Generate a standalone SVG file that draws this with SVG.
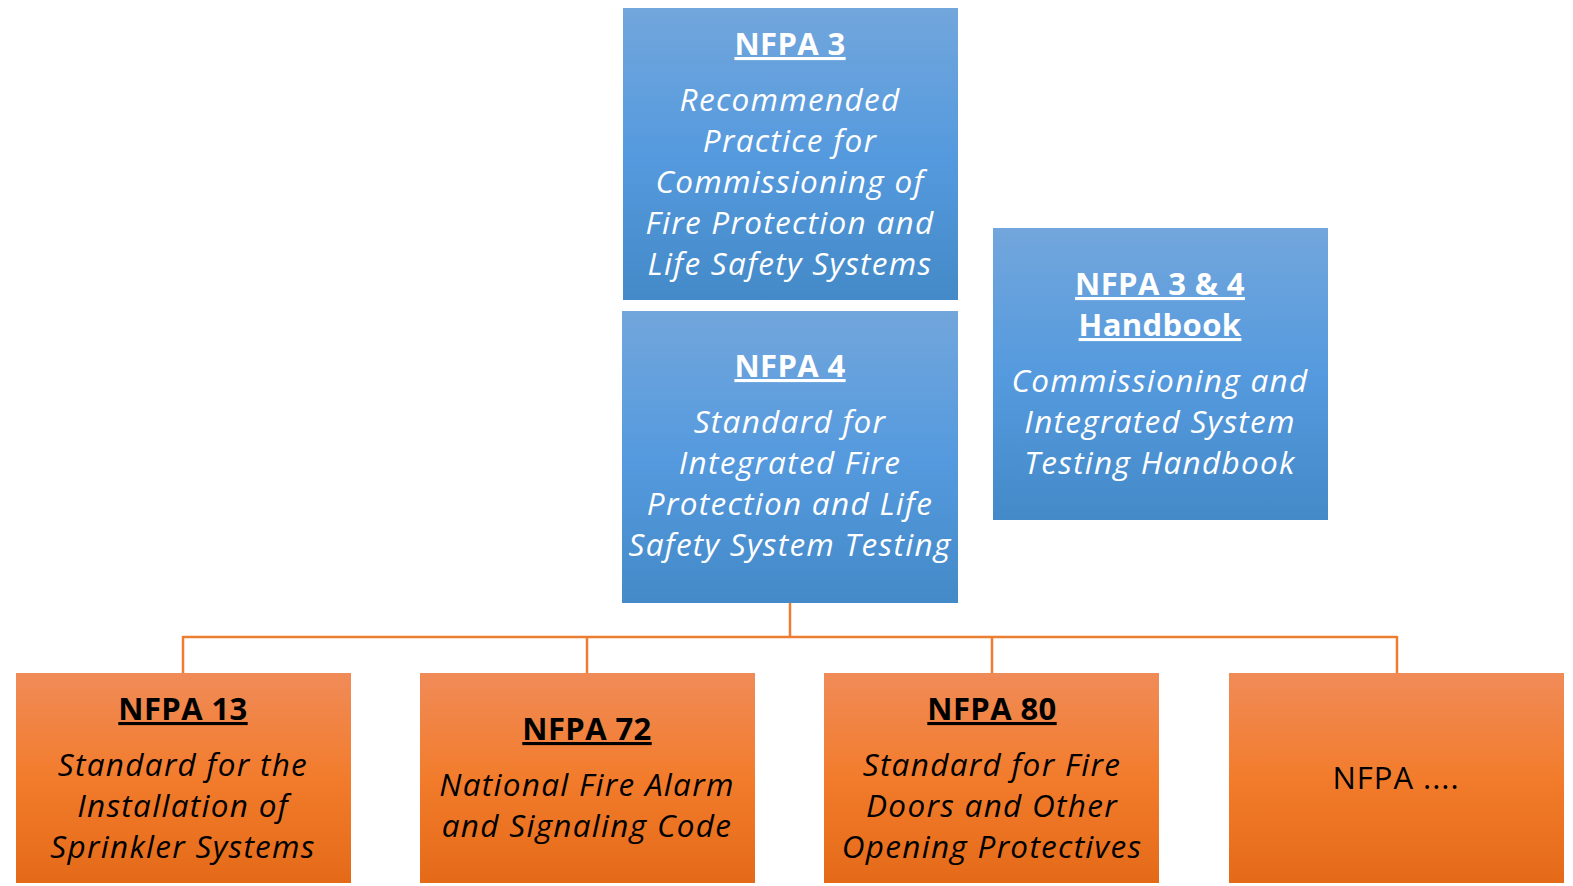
<svg xmlns="http://www.w3.org/2000/svg" width="1573" height="886" viewBox="0 0 1573 886">
<defs>
<linearGradient id="gb" x1="0" y1="0" x2="0" y2="1">
<stop offset="0" stop-color="#72a6dc"/>
<stop offset="0.5" stop-color="#559ade"/>
<stop offset="1" stop-color="#448ac8"/>
</linearGradient>
<linearGradient id="go" x1="0" y1="0" x2="0" y2="1">
<stop offset="0" stop-color="#f08b58"/>
<stop offset="0.5" stop-color="#f27c2c"/>
<stop offset="1" stop-color="#e46a18"/>
</linearGradient>
<style>
.blue{fill:url(#gb)}
.orange{fill:url(#go)}
text{font-family:"Open Sans","Noto Sans","Liberation Sans",sans-serif;text-anchor:middle}
.t{font-weight:bold;font-size:31px;letter-spacing:0.4px;text-decoration:underline}
.i{font-style:italic;font-size:31.5px;letter-spacing:1.3px}
.n{font-size:31px;letter-spacing:1px}
.w{fill:#ffffff}
.k{fill:#000000}
.conn{fill:none;stroke:#ed7d31;stroke-width:2.5}
</style>
</defs>
<g id="connectors">
<path class="conn" d="M790,603 V637 M183,637 H1397 M183,636 V673 M587,636 V673 M992,636 V673 M1397,636 V673"/>
</g>
<g id="nfpa3">
<rect class="blue" x="623" y="8" width="335" height="292"/>
<text class="t w" x="790" y="55">NFPA 3</text>
<text class="i w" x="790" y="111">Recommended</text>
<text class="i w" x="790" y="152">Practice for</text>
<text class="i w" x="790" y="193">Commissioning of</text>
<text class="i w" x="790" y="234">Fire Protection and</text>
<text class="i w" x="790" y="275">Life Safety Systems</text>
</g>
<g id="nfpa4">
<rect class="blue" x="622" y="311" width="336" height="292"/>
<text class="t w" x="790" y="377">NFPA 4</text>
<text class="i w" x="790" y="433">Standard for</text>
<text class="i w" x="790" y="474">Integrated Fire</text>
<text class="i w" x="790" y="515">Protection and Life</text>
<text class="i w" x="790" y="556">Safety System Testing</text>
</g>
<g id="handbook">
<rect class="blue" x="993" y="228" width="335" height="292"/>
<text class="t w" x="1160" y="295">NFPA 3 &amp; 4</text>
<text class="t w" x="1160" y="336">Handbook</text>
<text class="i w" x="1160" y="392">Commissioning and</text>
<text class="i w" x="1160" y="433">Integrated System</text>
<text class="i w" x="1160" y="474">Testing Handbook</text>
</g>
<g id="nfpa13">
<rect class="orange" x="16" y="673" width="335" height="210"/>
<text class="t k" x="183" y="720">NFPA 13</text>
<text class="i k" x="183" y="776">Standard for the</text>
<text class="i k" x="183" y="817">Installation of</text>
<text class="i k" x="183" y="858">Sprinkler Systems</text>
</g>
<g id="nfpa72">
<rect class="orange" x="420" y="673" width="335" height="210"/>
<text class="t k" x="587" y="740">NFPA 72</text>
<text class="i k" x="587" y="796">National Fire Alarm</text>
<text class="i k" x="587" y="837">and Signaling Code</text>
</g>
<g id="nfpa80">
<rect class="orange" x="824" y="673" width="335" height="210"/>
<text class="t k" x="992" y="720">NFPA 80</text>
<text class="i k" x="992" y="776">Standard for Fire</text>
<text class="i k" x="992" y="817">Doors and Other</text>
<text class="i k" x="992" y="858">Opening Protectives</text>
</g>
<g id="nfpa-more">
<rect class="orange" x="1229" y="673" width="335" height="210"/>
<text class="n k" x="1396" y="789">NFPA ....</text>
</g>
</svg>
